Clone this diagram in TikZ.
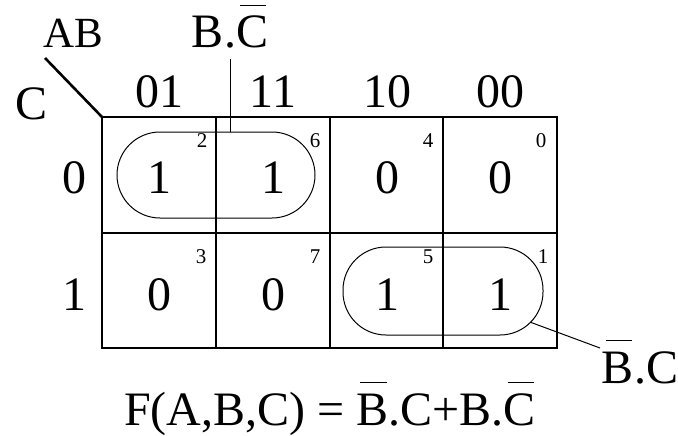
\documentclass[tikz,border=0pt]{standalone}
\usepackage{fontspec}
\setmainfont{Liberation Serif}
\usetikzlibrary{calc}
\newcommand\ovl[1]{\setbox0\hbox{#1}\rlap{\kern0.12\wd0\vrule height 0.89em depth -0.865em width 0.82\wd0}\box0}
\tikzset{
  big/.style={font=\fontsize{48}{50}\selectfont, inner sep=0pt, anchor=base},
  small/.style={font=\fontsize{21}{23}\selectfont, inner sep=0pt, anchor=base},
  grid/.style={line width=2.6pt},
  loop/.style={draw, line width=1pt, rounded corners=43pt, inner sep=0pt},
  callout/.style={line width=1pt}
}
\begin{document}
\begin{tikzpicture}[x=1pt,y=-1pt]
\useasboundingbox (0,0) rectangle (678,436);
% grid
\draw[grid] (102,117) rectangle (557,348);
\draw[grid] (102,233) -- (557,233);
\foreach \x in {216,330,443} \draw[grid] (\x,117) -- (\x,348);
\draw[grid] (45,58) -- (102,117);
% headings
\node[big, font=\fontsize{43}{46}\selectfont] (ab) at (73,48) {AB};
\node[big] (c) at (32,120) {C};
\node[big] (h1) at (159,107) {01};
\node[big] (h2) at (273,107) {11};
\node[big] (h3) at (387,107) {10};
\node[big] (h4) at (500,107) {00};
\node[big] (r0) at (74,193) {0};
\node[big] (r1) at (74,310) {1};
% cell values
\node[big] (v2) at (159,193) {1};
\node[big] (v6) at (273,193) {1};
\node[big] (v4) at (387,193) {0};
\node[big] (v0) at (500,193) {0};
\node[big] (v3) at (159,310) {0};
\node[big] (v7) at (273,310) {0};
\node[big] (v5) at (387,310) {1};
\node[big] (v1) at (500,310) {1};
% minterm indices
\node[small] (m2) at (202,147) {2};
\node[small] (m6) at (315,147) {6};
\node[small] (m4) at (428,147) {4};
\node[small] (m0) at (541,147) {0};
\node[small] (m3) at (201,263) {3};
\node[small] (m7) at (315,263) {7};
\node[small] (m5) at (428,263) {5};
\node[small] (m1) at (543,263) {1};
% loops
\node[loop, minimum width=198pt, minimum height=86pt] (loopA) at (216,175) {};
\node[loop, minimum width=200pt, minimum height=88pt] (loopB) at (443,291) {};
% labels
\node[big] (lbA) at (230,48) {B.\ovl{C}};
\node[big] (lbB) at (640,383) {\ovl{B}.C};
\coordinate (tA) at (230,59);
\coordinate (tB) at (600,348);
\coordinate (pB) at ($(loopB.center)+(56,0)+(45:44)$);
\draw[callout] (tA) -- (tA |- loopA.north);
\draw[callout] (pB) -- (tB);
% formula
\node[big] (f) at (330,425) {F(A,B,C) = \ovl{B}.C+B.\ovl{C}};
\end{tikzpicture}
\end{document}
